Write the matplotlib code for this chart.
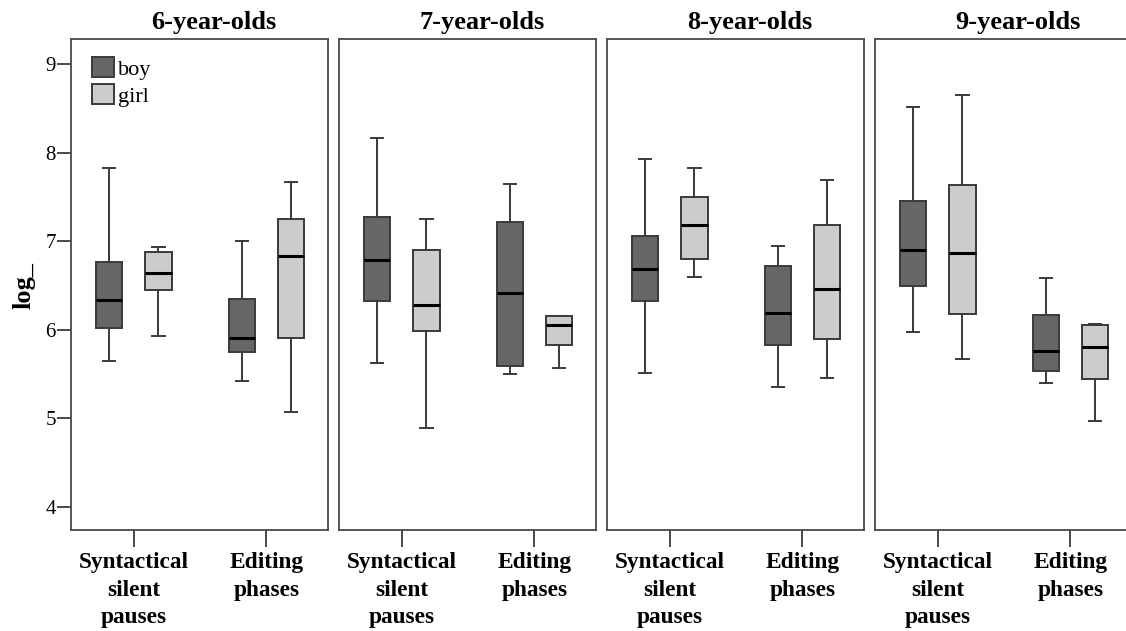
import matplotlib
matplotlib.use("Agg")
from matplotlib import pyplot as plt
from matplotlib.patches import Patch

plt.rcParams['font.family'] = ['Liberation Serif', 'DejaVu Serif']

# panel titles and the two pause types on the x axis
ages = ["6-year-olds", "7-year-olds", "8-year-olds", "9-year-olds"]
categories = ["Syntactical\nsilent\npauses", "Editing\nphases"]
genders = ["boy", "girl"]

# (whisker low, Q1, median, Q3, whisker high) per age group
boy_syntactical = [(5.65, 6.02, 6.34, 6.77, 7.83),
                   (5.63, 6.33, 6.79, 7.27, 8.16),
                   (5.51, 6.33, 6.69, 7.06, 7.93),
                   (5.97, 6.49, 6.90, 7.45, 8.52)]
girl_syntactical = [(5.93, 6.45, 6.64, 6.88, 6.93),
                    (4.89, 5.99, 6.28, 6.90, 7.25),
                    (6.60, 6.80, 7.18, 7.50, 7.83),
                    (5.67, 6.18, 6.87, 7.63, 8.65)]
boy_editing = [(5.42, 5.75, 5.91, 6.35, 7.00),
               (5.50, 5.59, 6.42, 7.22, 7.65),
               (5.35, 5.83, 6.19, 6.72, 6.95),
               (5.40, 5.54, 5.76, 6.17, 6.59)]
girl_editing = [(5.07, 5.91, 6.83, 7.25, 7.67),
                (5.57, 5.83, 6.05, 6.16, 6.16),
                (5.46, 5.90, 6.46, 7.18, 7.69),
                (4.97, 5.44, 5.81, 6.05, 6.07)]

yticks = [4, 5, 6, 7, 8, 9]

colors = {"boy": "#666666", "girl": "#cccccc"}
edge = "#3a3a3a"
spine_col = "#4a4a4a"


def stat(v):
    lo, q1, med, q3, hi = v
    return dict(whislo=lo, q1=q1, med=med, q3=q3, whishi=hi, fliers=[])


W, H = 1126, 631
fig = plt.figure(figsize=(W / 100, H / 100), dpi=100)

offset = 0.185
bw = 0.2

for i, age in enumerate(ages):
    left = (71 + 268 * i) / W
    ax = fig.add_axes([left, 101 / H, 257 / W, 491 / H])
    series = {"boy": [boy_syntactical[i], boy_editing[i]],
              "girl": [girl_syntactical[i], girl_editing[i]]}
    for g, sign in zip(genders, (-1, 1)):
        stats = [stat(v) for v in series[g]]
        pos = [c + sign * offset for c in range(len(categories))]
        ax.bxp(stats, positions=pos, widths=bw, patch_artist=True,
               showfliers=False, capwidths=0.095,
               boxprops=dict(facecolor=colors[g], edgecolor=edge, linewidth=1.4),
               medianprops=dict(color="black", linewidth=2.2),
               whiskerprops=dict(color=edge, linewidth=1.4),
               capprops=dict(color=edge, linewidth=1.4))

    ax.set_xlim(-0.473, 1.465)
    ax.set_ylim(3.74, 9.282)
    ax.set_xticks(range(len(categories)))
    ax.set_xticklabels(categories, fontsize=16.8, fontweight="bold",
                       linespacing=1.4)
    ax.tick_params(axis="x", length=12, width=1.4, color=spine_col, pad=4)
    for sp in ax.spines.values():
        sp.set_color(spine_col)
        sp.set_linewidth(1.3)
    if i == 0:
        ax.set_yticks(yticks)
        ax.set_yticklabels([str(t) for t in yticks], fontsize=15)
        ax.tick_params(axis="y", length=10, width=1.4, color=spine_col, pad=1)
        handles = [Patch(facecolor=colors[g], edgecolor=edge, linewidth=1.4, label=g)
                   for g in genders]
        ax.legend(handles=handles, loc="upper left", bbox_to_anchor=(0.02, 0.995),
                  frameon=False, fontsize=16, handlelength=1.0,
                  handleheight=1.0, handletextpad=0.2, labelspacing=0.22,
                  borderaxespad=0.3)
    else:
        ax.set_yticks([])
    ax.set_title(age, fontsize=19, fontweight="bold", x=0.555, pad=7)

fig.text(24 / W, 1 - 286 / H, "log_", rotation=90, fontsize=19,
         fontweight="bold", ha="center", va="center")

fig.savefig("out.png", dpi=100)
